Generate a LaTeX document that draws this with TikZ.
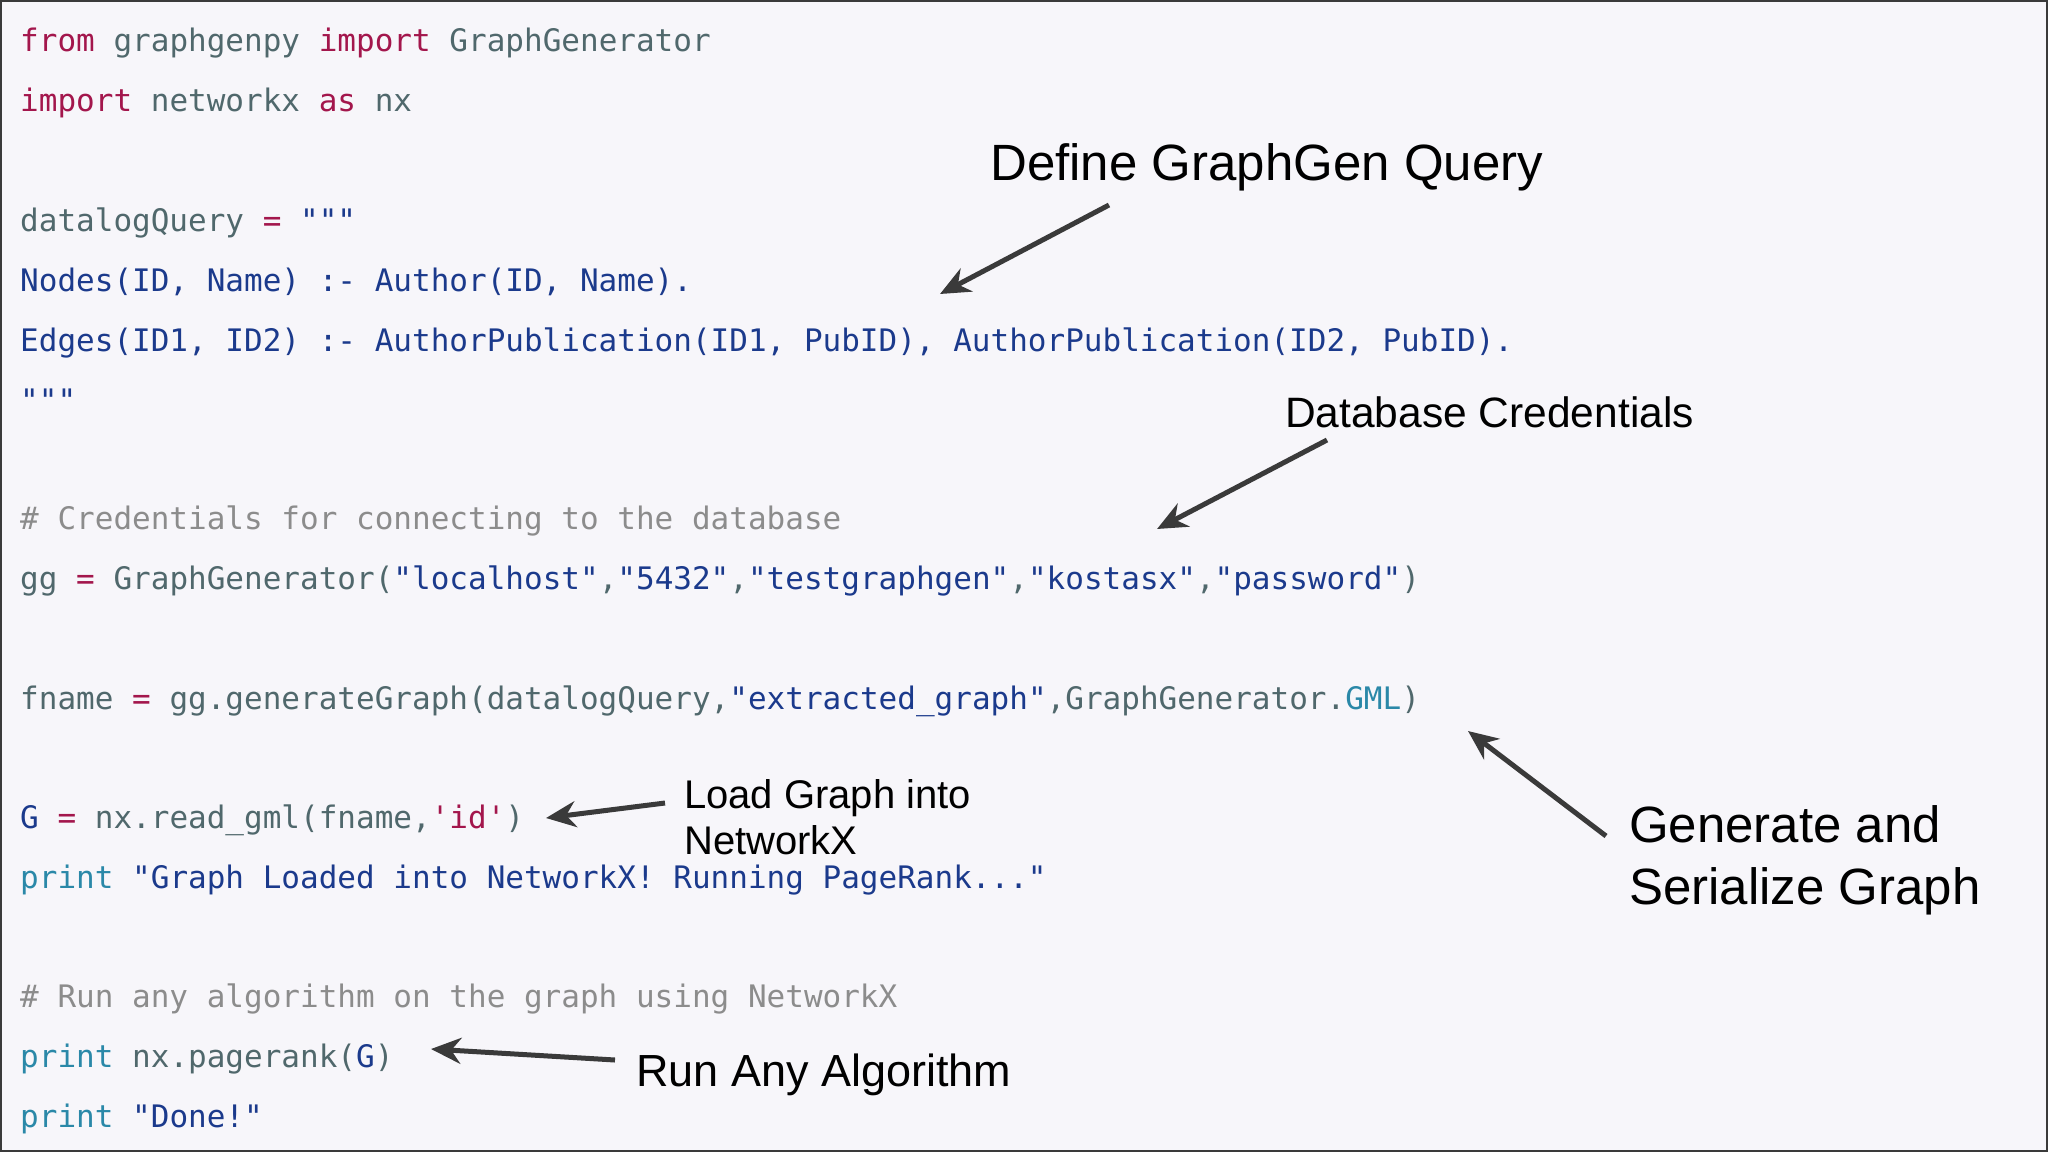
\documentclass[tikz,border=0pt]{standalone}
\usepackage{fontspec}
\setmainfont{Liberation Sans}
\newfontfamily\codefont{DejaVu Sans Mono}
\usetikzlibrary{arrows.meta}
\definecolor{bgc}{HTML}{F7F6FA}
\definecolor{kwc}{HTML}{A3164C}
\definecolor{dfc}{HTML}{50686C}
\definecolor{blc}{HTML}{1B3A8C}
\definecolor{cmc}{HTML}{8C8C8C}
\definecolor{tlc}{HTML}{2A88A8}
\definecolor{arc}{HTML}{3A3A3A}
\newcommand\Kw[1]{\textcolor{kwc}{#1}}
\newcommand\Bl[1]{\textcolor{blc}{#1}}
\newcommand\Tl[1]{\textcolor{tlc}{#1}}
\tikzset{
 codeline/.style={anchor=base west, inner sep=0pt, text=dfc, font=\codefont\fontsize{31}{36}\selectfont},
 note/.style={anchor=base west, inner sep=0pt, align=left, text=black},
 pointer/.style={draw=arc, line width=5pt, -{Stealth[length=30pt,width=26pt]}}
}
\begin{document}
\begin{tikzpicture}[x=1pt,y=-1pt]
\fill[bgc] (0,0) rectangle (2048,1152);
\draw[arc,line width=2pt] (1,1) rectangle (2047,1151);
\node[codeline] (l1) at (20,51) {\Kw{from} graphgenpy \Kw{import} GraphGenerator};
\node[codeline] (l2) at (20,111) {\Kw{import} networkx \Kw{as} nx};
\node[codeline] (l3) at (20,231) {datalogQuery \Kw{=} \Bl{"""}};
\node[codeline,text=blc] (l4) at (20,291) {Nodes(ID, Name) :- Author(ID, Name).};
\node[codeline,text=blc] (l5) at (20,351) {Edges(ID1, ID2) :- AuthorPublication(ID1, PubID), AuthorPublication(ID2, PubID).};
\node[codeline,text=blc] (l6) at (20,411) {"""};
\node[codeline,text=cmc] (l7) at (20,529) {\# Credentials for connecting to the database};
\node[codeline] (l8) at (20,589) {gg \Kw{=} GraphGenerator(\Bl{"localhost"},\Bl{"5432"},\Bl{"testgraphgen"},\Bl{"kostasx"},\Bl{"password"})};
\node[codeline] (l9) at (20,709) {fname \Kw{=} gg.generateGraph(datalogQuery,\Bl{"extracted\_graph"},GraphGenerator.\Tl{GML})};
\node[codeline] (l10) at (20,828) {\Bl{G} \Kw{=} nx.read\_gml(fname,\Kw{'id'})};
\node[codeline,text=blc] (l11) at (20,888) {\Tl{print} "Graph Loaded into NetworkX! Running PageRank..."};
\node[codeline,text=cmc] (l12) at (20,1007) {\# Run any algorithm on the graph using NetworkX};
\node[codeline] (l13) at (20,1067) {\Tl{print} nx.pagerank(\Bl{G})};
\node[codeline] (l14) at (20,1127) {\Tl{print} \Bl{"Done!"}};

\node[note,font=\fontsize{51}{60}\selectfont] (n1) at (990,180) {Define GraphGen Query};
\node[note,font=\fontsize{42.5}{48}\selectfont] (n2) at (1285,427) {Database Credentials};
\node[note,font=\fontsize{40}{46}\selectfont] (n3) at (684,854) {Load Graph into\\NetworkX};
\node[note,font=\fontsize{51}{62}\selectfont] (n4) at (1629,904) {Generate and\\Serialize Graph};
\node[note,font=\fontsize{45}{54}\selectfont] (n5) at (636,1086) {Run Any Algorithm};

\coordinate (a1s) at (1109,205); \coordinate (a1e) at (940,294);
\coordinate (a2s) at (1327,440); \coordinate (a2e) at (1157,529);
\coordinate (a3s) at (665,803);  \coordinate (a3e) at (546,818);
\coordinate (a4s) at (1606,836); \coordinate (a4e) at (1468,731);
\coordinate (a5s) at (615,1060); \coordinate (a5e) at (431,1049);
\draw[pointer] (a1s) -- (a1e);
\draw[pointer] (a2s) -- (a2e);
\draw[pointer] (a3s) -- (a3e);
\draw[pointer] (a4s) -- (a4e);
\draw[pointer] (a5s) -- (a5e);
\end{tikzpicture}
\end{document}
